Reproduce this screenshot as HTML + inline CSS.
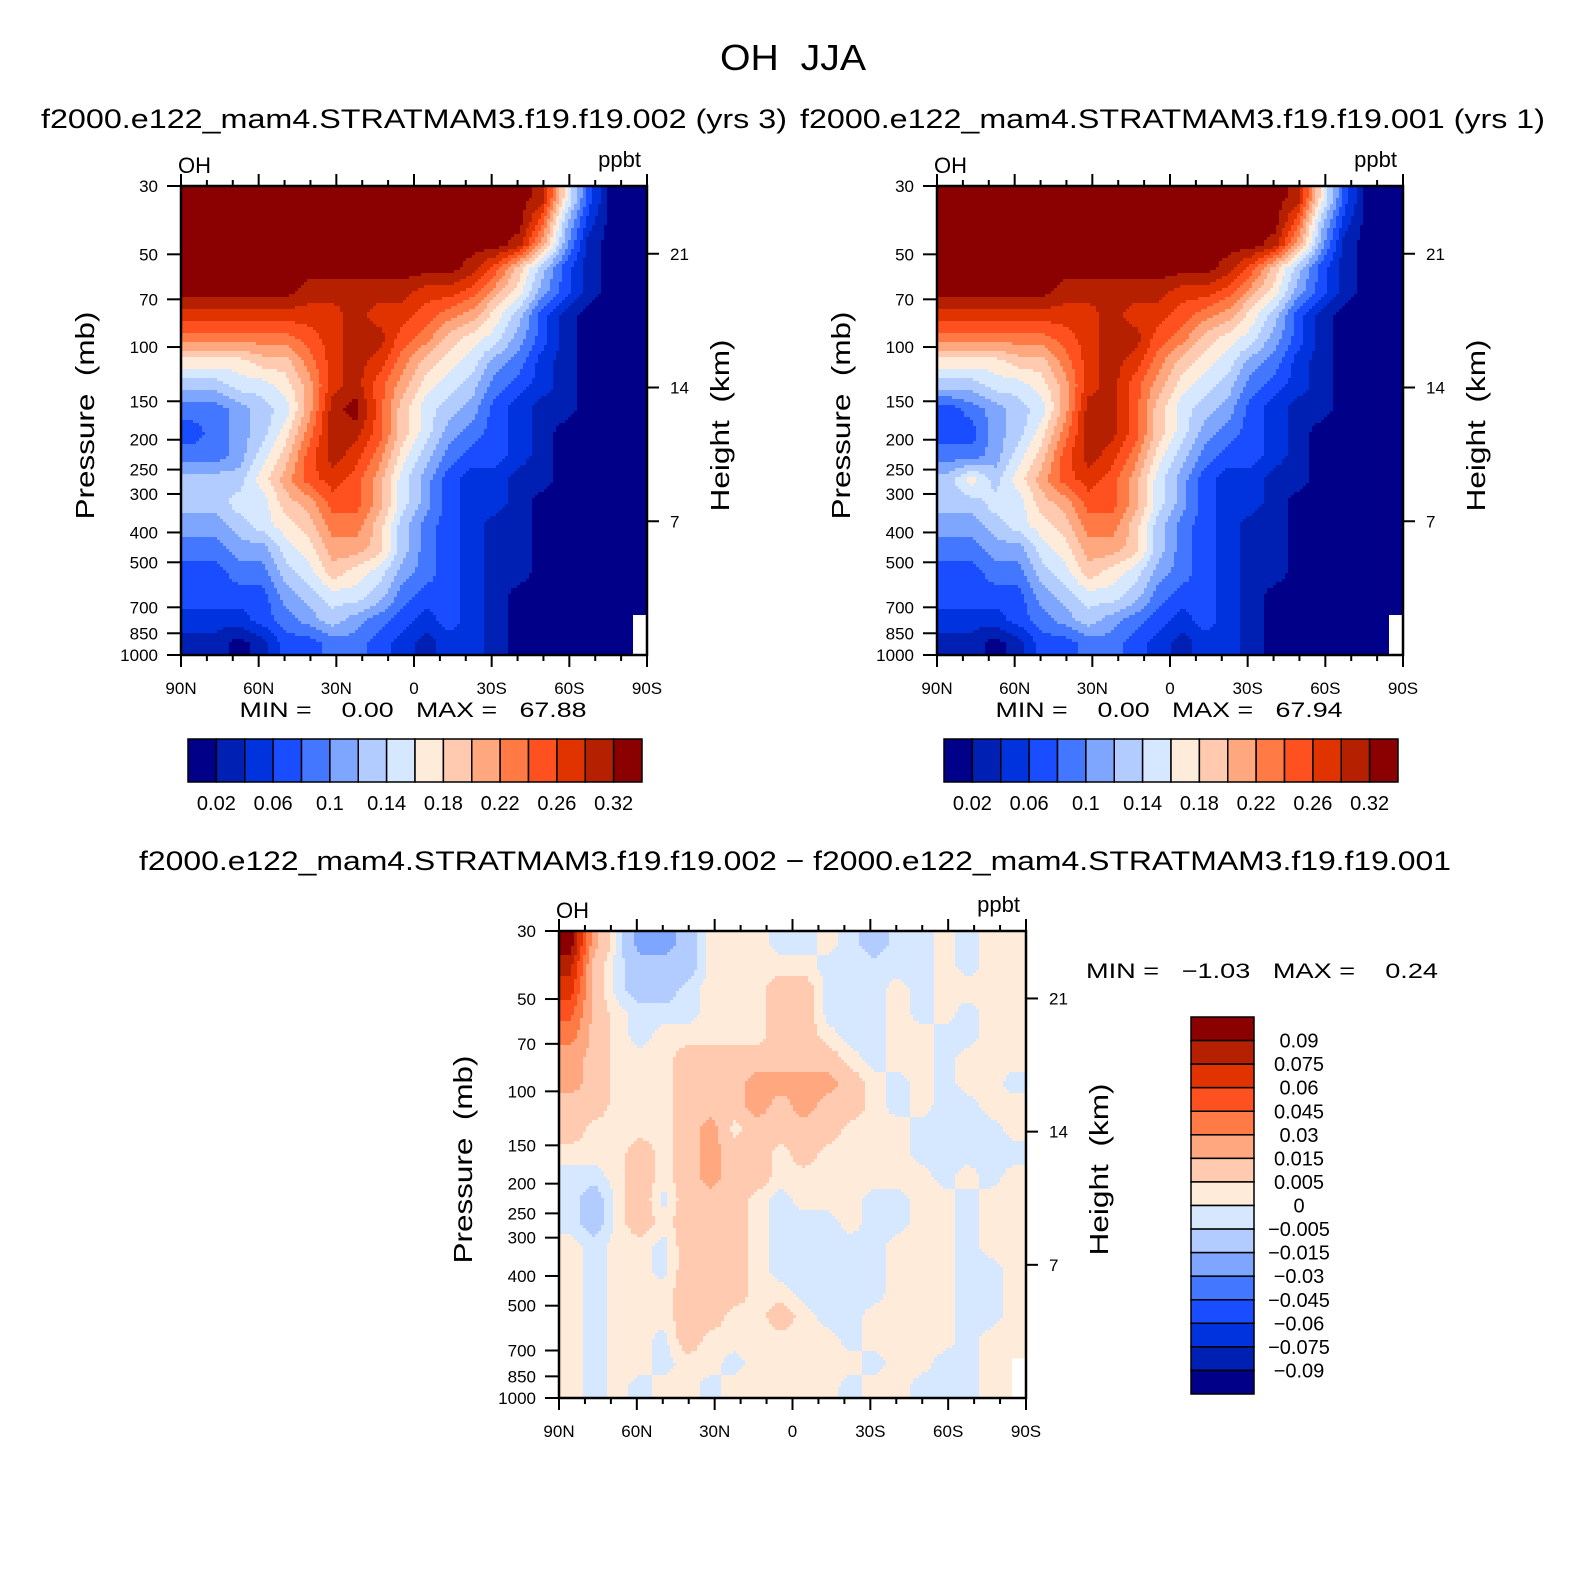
<!DOCTYPE html>
<html><head><meta charset="utf-8">
<style>
html,body{margin:0;padding:0;background:#fff;}
svg{display:block;font-family:"Liberation Sans","DejaVu Sans",sans-serif;}
.pre{white-space:pre;}
</style></head>
<body>
<svg id="fig" xmlns="http://www.w3.org/2000/svg" width="1585" height="1588" viewBox="0 0 1585 1588">
<rect x="0" y="0" width="1585" height="1588" fill="#fff"/>
<text x="793" y="70" font-size="36" text-anchor="middle" textLength="146" lengthAdjust="spacingAndGlyphs" class="pre">OH  JJA</text>
<text x="41" y="128" font-size="27" textLength="746" lengthAdjust="spacingAndGlyphs">f2000.e122_mam4.STRATMAM3.f19.f19.002 (yrs 3)</text>
<text x="800" y="128" font-size="27" textLength="745" lengthAdjust="spacingAndGlyphs">f2000.e122_mam4.STRATMAM3.f19.f19.001 (yrs 1)</text>
<text x="139" y="870" font-size="27" textLength="1312" lengthAdjust="spacingAndGlyphs">f2000.e122_mam4.STRATMAM3.f19.f19.002 − f2000.e122_mam4.STRATMAM3.f19.f19.001</text>
<g id="layer"></g>
</svg>
<script>
// OH (units: 0.01 ppbt), rows top (30 mb) to bottom (1000 mb), columns 90N -> 90S
const ohA = [
[31,31,31,31,31,31,31,31,31,31,31,31,31,31,31,29,17,7,1,1],
[31,31,31,31,31,31,31,31,31,31,31,31,31,31,31,25,13,5,1,1],
[31,31,31,31,31,31,31,31,31,31,31,31,31,31,29,21,11,3,1,1],
[31,31,31,31,31,31,31,31,31,31,31,31,29,25,19,13,7,3,1,1],
[31,31,31,31,31,29,29,29,29,29,27,27,25,21,17,11,7,3,1,1],
[27,27,27,27,27,27,27,29,27,27,25,23,21,17,13,7,3,1,1,1],
[23,23,23,23,23,25,27,29,29,25,23,19,17,15,11,7,3,1,1,1],
[17,17,17,19,19,23,27,29,27,23,19,17,15,11,9,5,3,1,1,1],
[13,13,15,15,17,21,27,29,25,21,17,15,13,9,7,5,3,1,1,1],
[9,9,11,13,15,21,29,31,25,19,15,13,11,7,5,3,3,1,1,1],
[7,9,11,13,17,23,29,29,25,19,15,11,9,7,5,3,1,1,1,1],
[9,9,11,15,19,25,29,27,23,17,13,9,7,7,5,3,1,1,1,1],
[13,13,13,17,21,25,27,25,21,15,11,7,5,5,3,3,1,1,1,1],
[13,13,15,15,19,21,25,25,21,15,11,7,5,5,3,1,1,1,1,1],
[11,11,13,15,17,19,23,23,19,13,9,7,5,3,3,1,1,1,1,1],
[9,9,11,11,15,17,21,21,19,13,9,7,5,3,3,1,1,1,1,1],
[7,7,9,9,13,15,19,17,15,11,9,7,5,3,3,1,1,1,1,1],
[7,7,7,7,11,13,15,15,13,9,7,7,5,3,1,1,1,1,1,1],
[5,5,5,7,9,11,13,11,9,7,5,7,5,3,1,1,1,1,1,null],
[3,3,1,3,7,7,9,9,7,5,3,5,5,3,1,1,1,1,1,1]
];
const ohB = [
[31,31,31,31,31,31,31,31,31,31,31,31,31,31,31,29,17,7,1,1],
[31,31,31,31,31,31,31,31,31,31,31,31,31,31,31,25,13,5,1,1],
[31,31,31,31,31,31,31,31,31,31,31,31,31,31,29,21,11,3,1,1],
[31,31,31,31,31,31,31,31,31,31,31,31,29,25,19,13,7,3,1,1],
[31,31,31,31,31,29,29,29,29,29,27,27,25,21,17,11,7,3,1,1],
[27,27,27,27,27,27,27,29,27,27,25,23,21,17,13,7,3,1,1,1],
[23,23,23,23,23,25,27,29,29,25,23,19,17,15,11,7,3,1,1,1],
[17,17,17,19,19,23,27,29,27,23,19,17,15,11,9,5,3,1,1,1],
[13,13,15,15,17,21,27,29,25,21,17,15,13,9,7,5,3,1,1,1],
[7,9,11,13,15,21,29,29,25,19,15,13,11,7,5,3,3,1,1,1],
[7,7,11,13,17,23,29,29,25,19,15,11,9,7,5,3,1,1,1,1],
[9,9,11,15,19,25,29,27,23,17,13,9,7,7,5,3,1,1,1,1],
[13,17,13,17,21,25,27,25,21,15,11,7,5,5,3,3,1,1,1,1],
[13,13,15,15,19,21,25,25,21,15,11,7,5,5,3,1,1,1,1,1],
[11,11,13,15,17,19,23,23,19,13,9,7,5,3,3,1,1,1,1,1],
[9,9,11,11,15,17,21,21,19,13,9,7,5,3,3,1,1,1,1,1],
[7,7,9,9,13,15,19,17,15,11,9,7,5,3,3,1,1,1,1,1],
[7,7,7,7,11,13,15,15,13,9,7,7,5,3,1,1,1,1,1,1],
[5,5,5,7,9,11,13,11,9,7,5,7,5,3,1,1,1,1,1,null],
[3,3,1,3,7,7,9,9,7,5,3,5,5,3,1,1,1,1,1,1]
];
// difference (units: 0.001 ppbt)
const ohDiff = [
[100,20,-2,-20,-20,-10,2,2,2,-2,-2,2,-2,-10,-2,-2,2,-2,2,2],
[80,10,-2,-10,-10,-10,2,2,2,2,2,-2,-2,-2,-2,-2,2,-2,2,2],
[67,10,-2,-10,-10,-2,2,2,2,10,10,-2,-2,-2,2,-2,2,2,2,2],
[50,10,2,-2,-2,-2,2,2,2,10,10,-2,-2,-2,2,-2,2,-2,2,2],
[37,10,2,-2,2,2,2,2,2,10,10,2,-2,-2,2,2,-2,-2,2,2],
[20,10,2,2,2,10,10,10,10,10,10,10,2,-2,2,2,-2,2,2,2],
[20,10,2,2,2,10,10,10,20,20,20,20,10,2,-2,2,-2,2,2,-2],
[10,10,2,2,2,10,10,10,20,10,20,10,10,2,-2,2,-2,-2,2,2],
[10,2,2,2,2,10,20,2,10,10,10,10,2,2,2,-2,-2,-2,-2,2],
[2,2,2,10,2,10,20,10,10,2,10,2,2,2,2,-2,-2,-2,-2,-2],
[-2,-2,2,10,2,10,20,10,10,2,2,2,2,2,2,2,-2,2,-2,2],
[-2,-10,2,10,-2,10,10,10,2,-2,2,2,2,-2,-2,2,2,-2,2,2],
[-2,-10,2,10,2,10,10,10,2,-2,-2,-2,2,-2,-2,2,2,-2,2,2],
[2,-2,2,2,-2,10,10,10,2,-2,-2,-2,-2,-2,2,2,2,-2,2,2],
[2,-2,2,2,-2,10,10,10,2,-2,-2,-2,-2,-2,2,2,2,-2,-2,2],
[2,-2,2,2,2,10,10,10,2,2,-2,-2,-2,-2,2,2,2,-2,-2,2],
[2,-2,2,2,2,10,10,2,2,10,2,-2,-2,2,2,2,2,-2,-2,2],
[2,-2,2,2,-2,10,2,2,2,2,2,2,-2,2,2,2,2,-2,2,2],
[2,-2,2,2,-2,2,2,-2,2,2,2,2,2,-2,2,2,-2,-2,2,null],
[2,-2,2,-2,2,2,-2,2,2,2,2,2,-2,2,2,-2,-2,-2,2,2]
];
const ohLevels = [2,4,6,8,10,12,14,16,18,20,22,24,26,28,30];
const ohLevelLabels = ["0.02","0.06","0.1","0.14","0.18","0.22","0.26","0.32"];
const ohLabelSlots = [1,3,5,7,9,11,13,15];
const diffLevels = [-90,-75,-60,-45,-30,-15,-5,0,5,15,30,45,60,75,90];
const diffLevelLabels = ["-0.09","-0.075","-0.06","-0.045","-0.03","-0.015","-0.005","0","0.005","0.015","0.03","0.045","0.06","0.075","0.09"];
const pressureTicks = [30,50,70,100,150,200,250,300,400,500,700,850,1000];
const heightTicks = [7,14,21];
const latLabels = [[90,"90N"],[60,"60N"],[30,"30N"],[0,"0"],[-30,"30S"],[-60,"60S"],[-90,"90S"]];
const minMaxA = ["0.00","67.88"], minMaxB = ["0.00","67.94"], minMaxD = ["−1.03","0.24"];
const palette = ["#000088","#0020b4","#0033dd","#1a4dff","#4477ff","#7fa6ff","#b3ccff","#d6e8ff","#ffebd9","#ffcab0","#ffa880","#ff7a45","#ff5020","#e03300","#b52000","#8b0000"];

const NS="http://www.w3.org/2000/svg";
const layer=document.getElementById('layer');
function mk(tag,attrs,parent){const e=document.createElementNS(NS,tag);for(const k in attrs)e.setAttribute(k,attrs[k]);(parent||layer).appendChild(e);return e;}
function txt(s,attrs,parent){const e=mk('text',attrs,parent);e.textContent=s;return e;}
function levelIndex(v,levels){let i=0;while(i<levels.length&&v>=levels[i])i++;return i;}

function panel(cfg){
  const g=mk('g',{});
  
  
  const {x0,y0,w,h,data,levels}=cfg;
  const nr=data.length,nc=data[0].length;
  const xOfLat=lat=>x0+(90-lat)/180*w;
  const yOfP=p=>y0+Math.log(p/30)/Math.log(1000/30)*h;
  const cw=w/nc,ch=h/nr;
  const filled=data.map((r,i)=>r.map((v,j)=>v===null?(r[j-1]!==undefined&&r[j-1]!==null?r[j-1]:data[i-1][j]):v));
  const val=(fx,fy)=>{
    let cx=Math.min(Math.max((fx-x0)/cw-0.5,0),nc-1),cy=Math.min(Math.max((fy-y0)/ch-0.5,0),nr-1);
    const i0=Math.floor(cy),j0=Math.floor(cx),i1=Math.min(i0+1,nr-1),j1=Math.min(j0+1,nc-1);
    const ty=cy-i0,tx=cx-j0;
    return (filled[i0][j0]*(1-tx)+filled[i0][j1]*tx)*(1-ty)+(filled[i1][j0]*(1-tx)+filled[i1][j1]*tx)*ty;
  };
  const fg=mk('g',{'shape-rendering':'crispEdges'},g);
  
  
  const st=3;
  for(let y=y0;y<y0+h;y+=st){
    const hh=Math.min(st,y0+h-y);
    let runStart=x0,runC=null;
    const xs=[];
    for(let x=x0;x<x0+w;x+=st)xs.push(x);
    xs.push(x0+w);
    for(let k=0;k<xs.length;k++){
      const x=xs[k];
      const c=k<xs.length-1?levelIndex(val(x+st/2,y+hh/2),levels):-1;
      if(c!==runC){
        if(runC!==null&&runC>=0){
          const r=mk('rect',{x:runStart,y:y,width:x-runStart,height:hh+0.5,fill:palette[runC]},fg);
          
          
        }
        runStart=x;runC=c;
      }
    }
  }
  for(let i=0;i<nr;i++)for(let j=0;j<nc;j++)if(data[i][j]===null){
    const r=mk('rect',{x:x0+j*cw+cw*0.4,y:y0+i*ch+ch*0.3,width:cw*0.6,height:ch*1.7,fill:'#fff'},fg);
    
    
  }
  const fr=mk('rect',{x:x0,y:y0,width:w,height:h,fill:'none',stroke:'#000','stroke-width':2.5},g);
  
  
  for(let lat=90;lat>=-90;lat-=10){
    const x=xOfLat(lat),L=lat%30===0?12:6;
    mk('line',{x1:x,x2:x,y1:y0,y2:y0-L,stroke:'#000','stroke-width':2},g);
    mk('line',{x1:x,x2:x,y1:y0+h,y2:y0+h+L,stroke:'#000','stroke-width':2},g);
  }
  latLabels.forEach(([lat,s])=>{const t=txt(s,{x:xOfLat(lat),y:y0+h+39,'font-size':17,'text-anchor':'middle'},g);
    });
  pressureTicks.forEach(p=>{const y=yOfP(p);
    mk('line',{x1:x0,x2:x0-14,y1:y,y2:y,stroke:'#000','stroke-width':2},g);
    const t=txt(String(p),{x:x0-23,y:y+6,'font-size':17,'text-anchor':'end'},g);
    });
  heightTicks.forEach(km=>{const y=yOfP(1000*Math.exp(-km/7));
    mk('line',{x1:x0+w,x2:x0+w+12,y1:y,y2:y,stroke:'#000','stroke-width':2},g);
    const t=txt(String(km),{x:x0+w+23,y:y+6,'font-size':17},g);
    });
  const yl=txt('Pressure  (mb)',{x:0,y:0,'font-size':26,'text-anchor':'middle','class':'pre',textLength:208,lengthAdjust:'spacingAndGlyphs',transform:`translate(${x0-87},${y0+h/2-5}) rotate(-90)`},g);
  
  const yr=txt('Height  (km)',{x:0,y:0,'font-size':26,'text-anchor':'middle','class':'pre',textLength:172,lengthAdjust:'spacingAndGlyphs',transform:`translate(${x0+w+82},${y0+h/2+5}) rotate(-90)`},g);
  
  const oh=txt('OH',{x:x0-3,y:y0-13,'font-size':22},g);
  
  const un=txt('ppbt',{x:x0+w-6,y:y0-19,'font-size':22,'text-anchor':'end'},g);
  
  return g;
}

function hbar(x0,y0,w,h,name){
  const g=mk('g',{});
  
  
  const bw=w/palette.length;
  palette.forEach((c,i)=>{const r=mk('rect',{x:x0+i*bw,y:y0,width:bw,height:h,fill:c,stroke:'#000','stroke-width':1.5},g);
    });
  ohLevelLabels.forEach((s,k)=>{const t=txt(s,{x:x0+ohLabelSlots[k]*bw,y:y0+h+28,'font-size':20,'text-anchor':'middle'},g);
    });
}
function minmax(cx,y,mm,name){
  const t=txt(`MIN =    ${mm[0]}   MAX =   ${mm[1]}`,{x:cx,y:y,'font-size':21,'text-anchor':'middle','class':'pre',textLength:347,lengthAdjust:'spacingAndGlyphs'});
  
}

panel({name:'left-panel',x0:181,y0:186,w:466,h:469,data:ohA,levels:ohLevels});
panel({name:'right-panel',x0:937,y0:186,w:466,h:469,data:ohB,levels:ohLevels});
panel({name:'diff-panel',x0:559,y0:931,w:467,h:467,data:ohDiff,levels:diffLevels});
minmax(413,717,minMaxA,'left-min-max');
minmax(1169,717,minMaxB,'right-min-max');
hbar(188,739,454,43,'left-colorbar');
hbar(944,739,454,43,'right-colorbar');
const dt=txt(`MIN =   ${minMaxD[0]}   MAX =    ${minMaxD[1]}`,{x:1086,y:978,'font-size':21,'class':'pre',textLength:352,lengthAdjust:'spacingAndGlyphs'});

(function(){
  const g=mk('g',{});
  
  
  const x0=1191,y0=1017,w=63,h=377,bh=h/palette.length;
  for(let i=0;i<palette.length;i++){
    const r=mk('rect',{x:x0,y:y0+i*bh,width:w,height:bh,fill:palette[palette.length-1-i],stroke:'#000','stroke-width':1.5},g);
    
  }
  for(let k=0;k<diffLevelLabels.length;k++){
    const s=diffLevelLabels[diffLevelLabels.length-1-k].replace('-','−');
    const t=txt(s,{x:1299,y:y0+(k+1)*bh+7,'font-size':20,'text-anchor':'middle'},g);
    
  }
})();
</script>
</body></html>
